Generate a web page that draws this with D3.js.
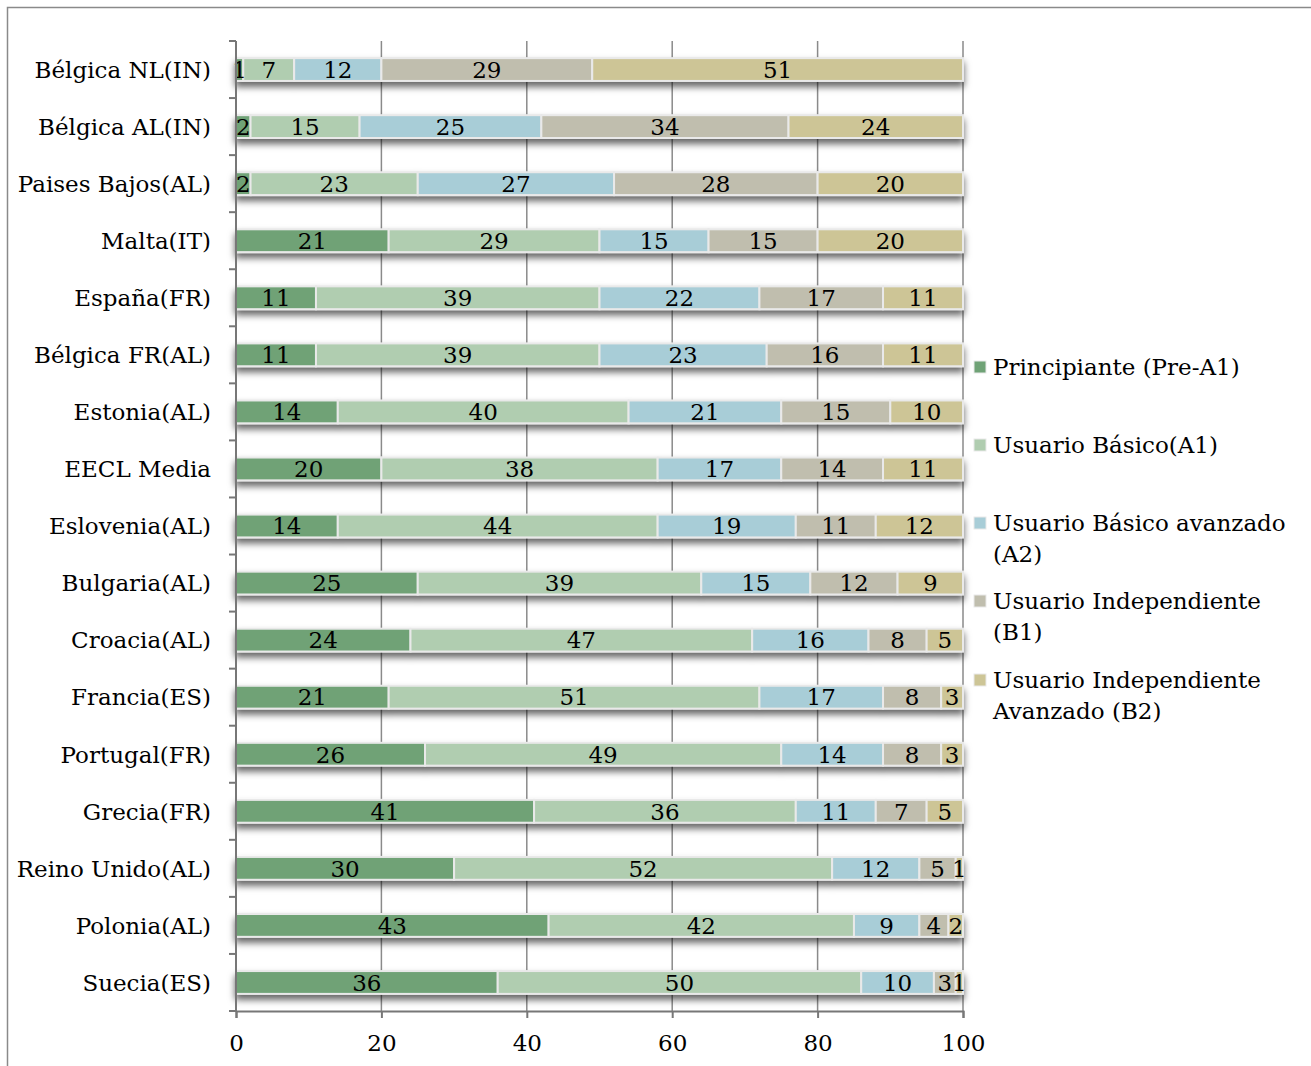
<!DOCTYPE html>
<html>
<head>
<meta charset="utf-8">
<script src="https://cdn.jsdelivr.net/npm/d3@7"></script>
<style>
  html, body { margin: 0; padding: 0; background: #fff; }
  svg { display: block; }
  text { font-family: "DejaVu Serif", "Liberation Serif", serif; fill: #000; }
</style>
</head>
<body>
<svg id="chart" width="1311" height="1066"></svg>
<script>
// Countries (top to bottom)
const categories = [
  "Bélgica NL(IN)", "Bélgica AL(IN)", "Paises Bajos(AL)", "Malta(IT)", "España(FR)",
  "Bélgica FR(AL)", "Estonia(AL)", "EECL Media", "Eslovenia(AL)", "Bulgaria(AL)",
  "Croacia(AL)", "Francia(ES)", "Portugal(FR)", "Grecia(FR)", "Reino Unido(AL)",
  "Polonia(AL)", "Suecia(ES)"
];

// Series names, split into legend lines
const seriesNames = [
  ["Principiante (Pre-A1)"],
  ["Usuario Básico(A1)"],
  ["Usuario Básico avanzado", "(A2)"],
  ["Usuario Independiente", "(B1)"],
  ["Usuario Independiente", "Avanzado (B2)"]
];

// Percentages per level, in category order
const preA1 = [1, 2, 2, 21, 11, 11, 14, 20, 14, 25, 24, 21, 26, 41, 30, 43, 36];
const a1    = [7, 15, 23, 29, 39, 39, 40, 38, 44, 39, 47, 51, 49, 36, 52, 42, 50];
const a2    = [12, 25, 27, 15, 22, 23, 21, 17, 19, 15, 16, 17, 14, 11, 12, 9, 10];
const b1    = [29, 34, 28, 15, 17, 16, 15, 14, 11, 12, 8, 8, 8, 7, 5, 4, 3];
const b2    = [51, 24, 20, 20, 11, 11, 10, 11, 12, 9, 5, 3, 3, 5, 1, 2, 1];

const xTicks = [0, 20, 40, 60, 80, 100];
const colors = ["#6fa276", "#b0cdb0", "#a8cdd7", "#c0beae", "#cdc596"];
const FS = 23;

const seriesValues = [preA1, a1, a2, b1, b2];
const rows = categories.map((c, i) => {
  const r = { cat: c };
  seriesValues.forEach((s, k) => r["s" + k] = s[i]);
  return r;
});
const keys = seriesValues.map((_, k) => "s" + k);
const stacked = d3.stack().keys(keys)(rows);

const svg = d3.select("#chart");

// Outer frame
svg.append("rect")
  .attr("x", 7.5).attr("y", 7.5).attr("width", 1340).attr("height", 1100)
  .attr("fill", "none").attr("stroke", "#8a8a8a").attr("stroke-width", 1.5);

const x = d3.scaleLinear().domain([0, 100]).range([236, 963]);
const y = d3.scaleBand().domain(categories).range([41, 1011])
  .paddingInner(0.6).paddingOuter(0.3);

// Drop shadow for the bars
const defs = svg.append("defs");
const f = defs.append("filter").attr("id", "shadow")
  .attr("x", "-5%").attr("y", "-50%").attr("width", "110%").attr("height", "250%");
f.append("feDropShadow").attr("dx", 0).attr("dy", 5).attr("stdDeviation", 3.5)
  .attr("flood-color", "#000").attr("flood-opacity", 0.6);

// Vertical gridlines
svg.append("g").selectAll("line").data(xTicks.filter(t => t > 0)).join("line")
  .attr("x1", d => x(d)).attr("x2", d => x(d))
  .attr("y1", 41).attr("y2", 1011)
  .attr("stroke", "#8a8a8a").attr("stroke-width", 1.5);

// Bars
const barsG = svg.append("g");
categories.forEach((c, i) => {
  const g = barsG.append("g").attr("filter", "url(#shadow)");
  stacked.forEach((layer, k) => {
    const d = layer[i];
    g.append("rect")
      .attr("x", x(d[0])).attr("y", y(c))
      .attr("width", x(d[1]) - x(d[0])).attr("height", y.bandwidth())
      .attr("fill", colors[k])
      .attr("stroke", "#e9e9e9").attr("stroke-width", 2);
  });
});

// Value labels
const labelsG = svg.append("g").attr("font-size", FS).attr("text-anchor", "middle");
categories.forEach((c, i) => {
  stacked.forEach((layer, k) => {
    const d = layer[i];
    labelsG.append("text")
      .attr("x", (x(d[0]) + x(d[1])) / 2)
      .attr("y", y(c) + y.bandwidth() / 2)
      .attr("dy", "0.36em")
      .text(d.data["s" + k]);
  });
});

// Left axis with ticks at band boundaries
const step = y.step();
const bounds = d3.range(categories.length + 1).map(i => 41 + i * step);
const leftAxis = svg.append("g");
leftAxis.append("line").attr("x1", 236).attr("x2", 236).attr("y1", 41).attr("y2", 1011)
  .attr("stroke", "#777").attr("stroke-width", 2);
leftAxis.selectAll("line.t").data(bounds).join("line").attr("class", "t")
  .attr("x1", 229).attr("x2", 236).attr("y1", d => d).attr("y2", d => d)
  .attr("stroke", "#777").attr("stroke-width", 2);
leftAxis.selectAll("text").data(categories).join("text")
  .attr("x", 211).attr("y", d => y(d) + y.bandwidth() / 2).attr("dy", "0.36em")
  .attr("text-anchor", "end").attr("font-size", FS).text(d => d);

// Bottom axis
const bottomAxis = svg.append("g").attr("transform", "translate(0,1011)")
  .call(d3.axisBottom(x).tickValues(xTicks).tickSize(7).tickPadding(17));
bottomAxis.select(".domain").attr("stroke", "#777").attr("stroke-width", 2);
bottomAxis.selectAll(".tick line").attr("stroke", "#777").attr("stroke-width", 2);
bottomAxis.selectAll(".tick text").attr("font-size", FS)
  .attr("font-family", "DejaVu Serif, Liberation Serif, serif").attr("fill", "#000");

// Legend
const legendY = [367, 445, 523, 601, 680];
const legend = svg.append("g");
seriesNames.forEach((lines, k) => {
  const cy = legendY[k];
  legend.append("rect").attr("x", 974).attr("y", cy - 6).attr("width", 12).attr("height", 12)
    .attr("fill", colors[k]).attr("stroke", "#e9e9e9").attr("stroke-width", 1);
  const t = legend.append("text").attr("x", 993).attr("y", cy)
    .attr("font-size", FS);
  lines.forEach((ln, j) => {
    t.append("tspan").attr("x", 993).attr("dy", j === 0 ? "0.36em" : 31).text(ln);
  });
});
</script>
</body>
</html>
